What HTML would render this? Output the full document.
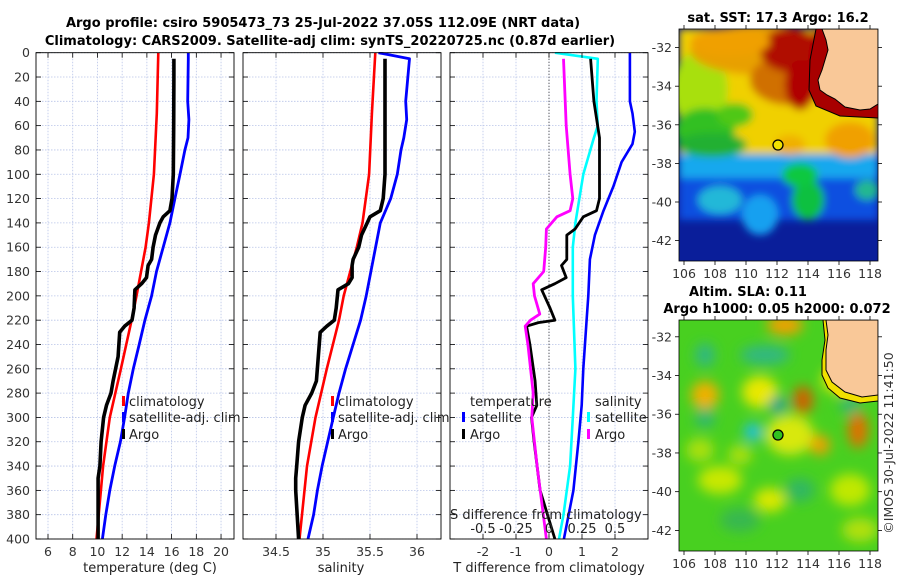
<!DOCTYPE html>
<html><head><meta charset="utf-8">
<style>
html,body{margin:0;padding:0;background:#fff;}
svg{display:block;font-family:"DejaVu Sans","Liberation Sans",sans-serif;}
.tk{font-size:12.5px;fill:#333;}
.ttl{font-size:13px;font-weight:bold;fill:#000;}
.lg{font-size:13px;fill:#222;}
</style></head>
<body>
<svg id="fig" width="900" height="580" viewBox="0 0 900 580">
<defs>
<filter id="bl" x="-20%" y="-20%" width="140%" height="140%"><feGaussianBlur stdDeviation="4"/></filter>
<filter id="bl2" x="-20%" y="-20%" width="140%" height="140%"><feGaussianBlur stdDeviation="6"/></filter>
<clipPath id="c1"><rect x="679" y="29" width="199" height="232"/></clipPath>
<clipPath id="c2"><rect x="679" y="320" width="199" height="231"/></clipPath>
<clipPath id="p1"><rect x="36" y="52" width="198" height="487"/></clipPath>
<clipPath id="p2"><rect x="243" y="52" width="198" height="487"/></clipPath>
<clipPath id="p3"><rect x="450" y="52" width="198" height="487"/></clipPath>
</defs>
<text class="ttl" x="323" y="27" text-anchor="middle">Argo profile: csiro 5905473_73 25-Jul-2022 37.05S 112.09E (NRT data)</text>
<text class="ttl" x="330" y="45" text-anchor="middle">Climatology: CARS2009. Satellite-adj clim: synTS_20220725.nc (0.87d earlier)</text>
<g id="grids"></g>
<g id="series"></g>
<g id="axes"></g>

<!-- SST map -->
<g clip-path="url(#c1)">
<rect x="679" y="29" width="199" height="232" fill="#0a1e9a"/>
<g filter="url(#bl)">
<rect x="679" y="170" width="199" height="50" fill="#1050e0"/>
<rect x="679" y="150" width="199" height="28" fill="#14a8ee"/>
<ellipse cx="720" cy="200" rx="22" ry="14" fill="#20b8d8"/>
<ellipse cx="760" cy="215" rx="18" ry="20" fill="#18a0f0"/>
<ellipse cx="808" cy="200" rx="16" ry="20" fill="#10c040"/>
<ellipse cx="800" cy="175" rx="18" ry="12" fill="#10c840"/>
<ellipse cx="867" cy="190" rx="12" ry="10" fill="#20b890"/>
<rect x="679" y="29" width="199" height="125" fill="#f0d000"/>
<ellipse cx="700" cy="90" rx="28" ry="40" fill="#a8e010"/>
<ellipse cx="705" cy="130" rx="30" ry="22" fill="#30c020"/>
<ellipse cx="712" cy="145" rx="35" ry="12" fill="#20b030"/>
<ellipse cx="735" cy="115" rx="18" ry="12" fill="#50c818"/>
<ellipse cx="760" cy="50" rx="70" ry="25" fill="#e8a000"/>
<ellipse cx="790" cy="80" rx="40" ry="25" fill="#d07000"/>
<ellipse cx="790" cy="50" rx="30" ry="22" fill="#b01000"/>
<ellipse cx="800" cy="85" rx="15" ry="25" fill="#b00000"/>
<ellipse cx="830" cy="60" rx="22" ry="40" fill="#b00000"/>
<ellipse cx="850" cy="140" rx="25" ry="18" fill="#f0a000"/>
<ellipse cx="790" cy="145" rx="15" ry="10" fill="#f0b000"/>
<ellipse cx="730" cy="42" rx="40" ry="14" fill="#f0a000"/>
</g>
<path d="M816,29 L810,60 L809,90 L816,106 L840,116 L878,118 L878,29 Z" fill="#a80000"/>
<path d="M822,29 L826,40 L828,50 L825,60 L822,70 L818,80 L820,90 L827,95 L835,99 L845,107 L860,110 L870,109 L878,104 L878,29 Z" fill="#f9c898" stroke="#000" stroke-width="1"/>
<path d="M816,29 L810,60 L809,90 L816,106 L840,116 L878,118" fill="none" stroke="#000" stroke-width="1"/>
<circle cx="778" cy="145" r="5" fill="#f0e000" stroke="#000" stroke-width="1.3"/>
</g>
<rect x="679" y="29" width="199" height="232" fill="none" stroke="#000" stroke-width="0.8"/>
<text class="ttl" x="778" y="22" text-anchor="middle">sat. SST: 17.3 Argo: 16.2</text>

<!-- SLA map -->
<g clip-path="url(#c2)">
<rect x="679" y="320" width="199" height="231" fill="#48d020"/>
<g filter="url(#bl2)">
<ellipse cx="785" cy="325" rx="18" ry="10" fill="#f0a000"/>
<ellipse cx="705" cy="395" rx="14" ry="14" fill="#f0b000"/>
<ellipse cx="760" cy="392" rx="18" ry="16" fill="#e8e800"/>
<ellipse cx="803" cy="400" rx="10" ry="14" fill="#d06000"/>
<ellipse cx="790" cy="435" rx="24" ry="20" fill="#d8e810"/>
<ellipse cx="820" cy="445" rx="10" ry="10" fill="#f0a000"/>
<ellipse cx="858" cy="430" rx="10" ry="18" fill="#e07000"/>
<ellipse cx="840" cy="380" rx="18" ry="14" fill="#e8e800"/>
<ellipse cx="720" cy="480" rx="22" ry="14" fill="#c8e800"/>
<ellipse cx="770" cy="500" rx="16" ry="12" fill="#d8e800"/>
<ellipse cx="850" cy="490" rx="20" ry="16" fill="#c0e800"/>
<ellipse cx="700" cy="450" rx="14" ry="12" fill="#a8e010"/>
<ellipse cx="740" cy="455" rx="12" ry="10" fill="#a8e010"/>
<ellipse cx="860" cy="530" rx="18" ry="12" fill="#b0e010"/>
<ellipse cx="705" cy="355" rx="10" ry="12" fill="#30b880"/>
<ellipse cx="765" cy="355" rx="25" ry="10" fill="#30b880"/>
<ellipse cx="778" cy="405" rx="9" ry="9" fill="#20a090"/>
<ellipse cx="753" cy="432" rx="9" ry="9" fill="#20c0e0"/>
<ellipse cx="705" cy="418" rx="10" ry="10" fill="#30b870"/>
<ellipse cx="850" cy="405" rx="10" ry="10" fill="#30b870"/>
<ellipse cx="800" cy="490" rx="15" ry="12" fill="#30b860"/>
<ellipse cx="740" cy="520" rx="20" ry="12" fill="#38b850"/>
</g>
<path d="M823,320 L825,340 L822,360 L822,375 L828,388 L840,398 L860,403 L878,401 L878,320 Z" fill="#f0e000"/>
<path d="M826,320 L828,335 L826,350 L826,370 L832,382 L845,392 L862,397 L878,395 L878,320 Z" fill="#f9c898" stroke="#000" stroke-width="1"/>
<path d="M823,320 L825,340 L822,360 L822,375 L828,388 L840,398 L860,403 L878,401" fill="none" stroke="#000" stroke-width="1"/>
<circle cx="778" cy="435" r="5" fill="#30c020" stroke="#000" stroke-width="1.3"/>
</g>
<rect x="679" y="320" width="199" height="231" fill="none" stroke="#000" stroke-width="0.8"/>
<text class="ttl" x="748" y="296" text-anchor="middle">Altim. SLA: 0.11</text>
<text class="ttl" x="777" y="313" text-anchor="middle">Argo h1000: 0.05 h2000: 0.072</text>
<g id="mapticks"></g>
<text x="893" y="443" font-size="12.5" fill="#333" text-anchor="middle" transform="rotate(-90 893 443)">©IMOS 30-Jul-2022 11:41:50</text>

<!-- legends -->
<g>
<rect x="122" y="396" width="3" height="10" fill="#f00"/><text class="lg" x="129" y="406">climatology</text>
<rect x="122" y="412" width="3" height="10" fill="#00f"/><text class="lg" x="129" y="422">satellite-adj. clim</text>
<rect x="122" y="429" width="3" height="10" fill="#000"/><text class="lg" x="129" y="439">Argo</text>
</g>
<g>
<rect x="331" y="396" width="3" height="10" fill="#f00"/><text class="lg" x="338" y="406">climatology</text>
<rect x="331" y="412" width="3" height="10" fill="#00f"/><text class="lg" x="338" y="422">satellite-adj. clim</text>
<rect x="331" y="429" width="3" height="10" fill="#000"/><text class="lg" x="338" y="439">Argo</text>
</g>
<g>
<text class="lg" x="470" y="406">temperature</text>
<rect x="462" y="412" width="3" height="10" fill="#00f"/><text class="lg" x="470" y="422">satellite</text>
<rect x="462" y="429" width="3" height="10" fill="#000"/><text class="lg" x="470" y="439">Argo</text>
<text class="lg" x="595" y="406">salinity</text>
<rect x="587" y="412" width="3" height="10" fill="#0ff"/><text class="lg" x="595" y="422">satellite</text>
<rect x="587" y="429" width="3" height="10" fill="#f0f"/><text class="lg" x="595" y="439">Argo</text>
</g>
<text class="lg" x="450" y="519">S difference from climatology</text>
<g id="sticks"></g>
<text class="lg" x="150" y="572" text-anchor="middle">temperature (deg C)</text>
<text class="lg" x="341" y="572" text-anchor="middle">salinity</text>
<text class="lg" x="549" y="572" text-anchor="middle">T difference from climatology</text>
</svg>
<script>
// ---- data ----
const climDepth=[0,50,100,140,160,200,220,260,300,340,400];
const climTemp=[14.92,14.8,14.57,14.16,13.9,13.16,12.76,11.9,11.0,10.46,9.92];
const climSal=[35.556,35.52,35.49,35.42,35.36,35.22,35.17,35.04,34.92,34.83,34.75];
const argoDepth=[5,20,60,100,120,130,135,140,150,160,170,175,185,190,195,210,220,225,230,250,270,280,290,300,320,340,350,360,400];
const argoTemp=[16.19,16.19,16.17,16.14,16.03,15.86,15.32,15.05,14.7,14.5,14.38,14.1,13.97,13.57,13.03,12.97,12.8,12.2,11.8,11.67,11.27,11.1,10.73,10.5,10.3,10.2,10.05,10.05,10.05];
const argoSal=[35.66,35.66,35.66,35.66,35.64,35.61,35.5,35.47,35.41,35.38,35.32,35.31,35.31,35.27,35.16,35.14,35.12,35.04,34.97,34.95,34.93,34.88,34.81,34.78,34.74,34.72,34.71,34.71,34.74];
const satDepth=[0,5,40,55,70,80,100,120,140,160,180,200,220,240,260,280,300,320,340,360,380,400];
const satTemp=[17.35,17.35,17.3,17.4,17.33,17.08,16.68,16.27,15.86,15.32,14.78,14.38,13.84,13.38,12.9,12.5,12.2,11.86,11.4,11.0,10.68,10.4];
const satSal=[35.59,35.92,35.88,35.89,35.86,35.83,35.79,35.72,35.61,35.56,35.51,35.46,35.4,35.32,35.24,35.17,35.11,35.05,34.99,34.94,34.9,34.84];
const dSatDepth=[0,40,50,65,75,90,110,130,150,170,200,220,260,290,320,360,400];
const dSatT=[2.45,2.45,2.53,2.6,2.53,2.2,1.95,1.65,1.39,1.24,1.19,1.14,1.04,0.99,0.89,0.74,0.45];
const dSatSDepth=[0,5,40,60,70,100,140,160,200,260,300,340,380,400];
const dSatS=[0.045,0.37,0.36,0.37,0.34,0.26,0.2,0.18,0.18,0.2,0.18,0.16,0.11,0.076];
const dArgoDepth=[5,40,70,120,130,135,145,150,160,170,175,185,190,195,210,220,222,225,240,270,290,300,320,360,400];
const dArgoT=[1.26,1.36,1.53,1.53,1.44,1.04,0.79,0.54,0.54,0.54,0.38,0.52,0.18,-0.22,0.03,0.18,-0.32,-0.68,-0.58,-0.42,-0.37,-0.53,-0.45,-0.27,0.18];
const dArgoSDepth=[5,60,100,120,130,135,145,160,180,190,200,215,220,225,240,280,300,340,400];
const dArgoS=[0.11,0.13,0.16,0.18,0.16,0.06,-0.02,-0.025,-0.04,-0.12,-0.11,-0.07,-0.14,-0.18,-0.16,-0.12,-0.13,-0.09,-0.02];
const depthTicks=[0,20,40,60,80,100,120,140,160,180,200,220,240,260,280,300,320,340,360,380,400];
const tempTicks=[6,8,10,12,14,16,18,20];
const salTicks=[34.5,35,35.5,36];
const dtTicks=[-2,-1,0,1,2];
const dsTicks=[-0.5,-0.25,0,0.25,0.5];
const dsTickLabels=["-0.5","-0.25","0","0.25","0.5"];
const lonTicks=[106,108,110,112,114,116,118];
const latTicks=[-32,-34,-36,-38,-40,-42];

// ---- scales ----
const NS='http://www.w3.org/2000/svg';
const yD=d=>52.7+d*(539-52.7)/400;
const xT=t=>48+(t-6)*12.36;
const xS=s=>276+(s-34.5)*94;
const xDT=t=>549+t*33;
const xDS=s=>549+s*132;
const xLon=l=>684+(l-106)*15.5;
const yLat1=l=>47.6+(-32-l)*19.3;
const yLat2=l=>336.8+(-32-l)*19.36;
function mk(tag,attrs,parent){const e=document.createElementNS(NS,tag);for(const k in attrs)e.setAttribute(k,attrs[k]);parent.appendChild(e);return e;}
const grids=document.getElementById('grids'),series=document.getElementById('series'),axes=document.getElementById('axes');
const panels=[{x0:36,x1:234,clip:'p1',name:'temperature-panel'},{x0:243,x1:441,clip:'p2',name:'salinity-panel'},{x0:450,x1:648,clip:'p3',name:'difference-panel'}];
function vgrid(xs){xs.forEach(x=>{mk('line',{x1:x,x2:x,y1:52.7,y2:539,stroke:'#b8c4e8','stroke-width':0.8,'stroke-dasharray':'1.5,1.5'},grids);});}
panels.forEach(p=>{depthTicks.forEach(d=>{mk('line',{x1:p.x0,x2:p.x1,y1:yD(d),y2:yD(d),stroke:'#b8c4e8','stroke-width':0.8,'stroke-dasharray':'1.5,1.5'},grids);
 mk('line',{x1:p.x0,x2:p.x0+5,y1:yD(d),y2:yD(d),stroke:'#000','stroke-width':0.8},axes);mk('line',{x1:p.x1-5,x2:p.x1,y1:yD(d),y2:yD(d),stroke:'#000','stroke-width':0.8},axes);});
 const r=mk('rect',{x:p.x0,y:52.7,width:p.x1-p.x0,height:539-52.7,fill:'none',stroke:'#000','stroke-width':0.9},axes);
 
 
});
vgrid(tempTicks.map(xT));vgrid(salTicks.map(xS));vgrid(dtTicks.map(xDT));
mk('line',{x1:549,x2:549,y1:52.7,y2:539,stroke:'#333','stroke-width':1,'stroke-dasharray':'1,2'},grids);
depthTicks.forEach(d=>{const t=mk('text',{x:30,y:yD(d)+4.5,'text-anchor':'end',class:'tk'},axes);t.textContent=d;
 
 });
function xticks(ticks,fx,labels){ticks.forEach((v,i)=>{const x=fx(v);mk('line',{x1:x,x2:x,y1:534,y2:539,stroke:'#000','stroke-width':0.8},axes);mk('line',{x1:x,x2:x,y1:52.7,y2:57.7,stroke:'#000','stroke-width':0.8},axes);
 const t=mk('text',{x:x,y:556,'text-anchor':'middle',class:'tk'},axes);t.textContent=labels?labels[i]:v;
 
 });}
xticks(tempTicks,xT);xticks(salTicks,xS);xticks(dtTicks,xDT);
const st=document.getElementById('sticks');
dsTicks.forEach((v,i)=>{const t=mk('text',{x:xDS(v),y:533,'text-anchor':'middle',class:'lg'},st);t.textContent=dsTickLabels[i];
 
 });
function line(depths,vals,fx,color,w,clip,name){const pts=depths.map((d,i)=>fx(vals[i]).toFixed(1)+','+yD(d).toFixed(1)).join(' ');
 const g=mk('g',{'clip-path':'url(#'+clip+')'},series);
 const pl=mk('polyline',{points:pts,fill:'none',stroke:color,'stroke-width':w,'stroke-linejoin':'round'},g);
 
 }
line(climDepth,climTemp,xT,'#f00',2.6,'p1','climatology-temperature-line');
line(satDepth,satTemp,xT,'#00f',2.8,'p1','satellite-temperature-line');
line(argoDepth,argoTemp,xT,'#000',3.6,'p1','argo-temperature-line');
line(climDepth,climSal,xS,'#f00',2.6,'p2','climatology-salinity-line');
line(satDepth,satSal,xS,'#00f',2.8,'p2','satellite-salinity-line');
line(argoDepth,argoSal,xS,'#000',3.6,'p2','argo-salinity-line');
line(dSatDepth,dSatT,xDT,'#00f',2.6,'p3','satellite-t-difference-line');
line(dSatSDepth,dSatS,xDS,'#0ff',2.6,'p3','satellite-s-difference-line');
line(dArgoDepth,dArgoT,xDT,'#000',2.8,'p3','argo-t-difference-line');
line(dArgoSDepth,dArgoS,xDS,'#f0f',2.8,'p3','argo-s-difference-line');
// map ticks
const mt=document.getElementById('mapticks');
[[29,261,yLat1,274],[320,551,yLat2,564]].forEach(m=>{
 lonTicks.forEach(l=>{const x=xLon(l);mk('line',{x1:x,x2:x,y1:m[1],y2:m[1]+4,stroke:'#000','stroke-width':0.8},mt);mk('line',{x1:x,x2:x,y1:m[0]-4,y2:m[0],stroke:'#000','stroke-width':0.8},mt);
  const t=mk('text',{x:x,y:m[3]+4,'text-anchor':'middle',class:'tk'},mt);t.textContent=l;
  
  });
 latTicks.forEach(l=>{const y=m[2](l);mk('line',{x1:675,x2:679,y1:y,y2:y,stroke:'#000','stroke-width':0.8},mt);mk('line',{x1:878,x2:882,y1:y,y2:y,stroke:'#000','stroke-width':0.8},mt);
  const t=mk('text',{x:672,y:y+4.5,'text-anchor':'end',class:'tk'},mt);t.textContent=l;
  
  });
});
</script>
</body></html>
